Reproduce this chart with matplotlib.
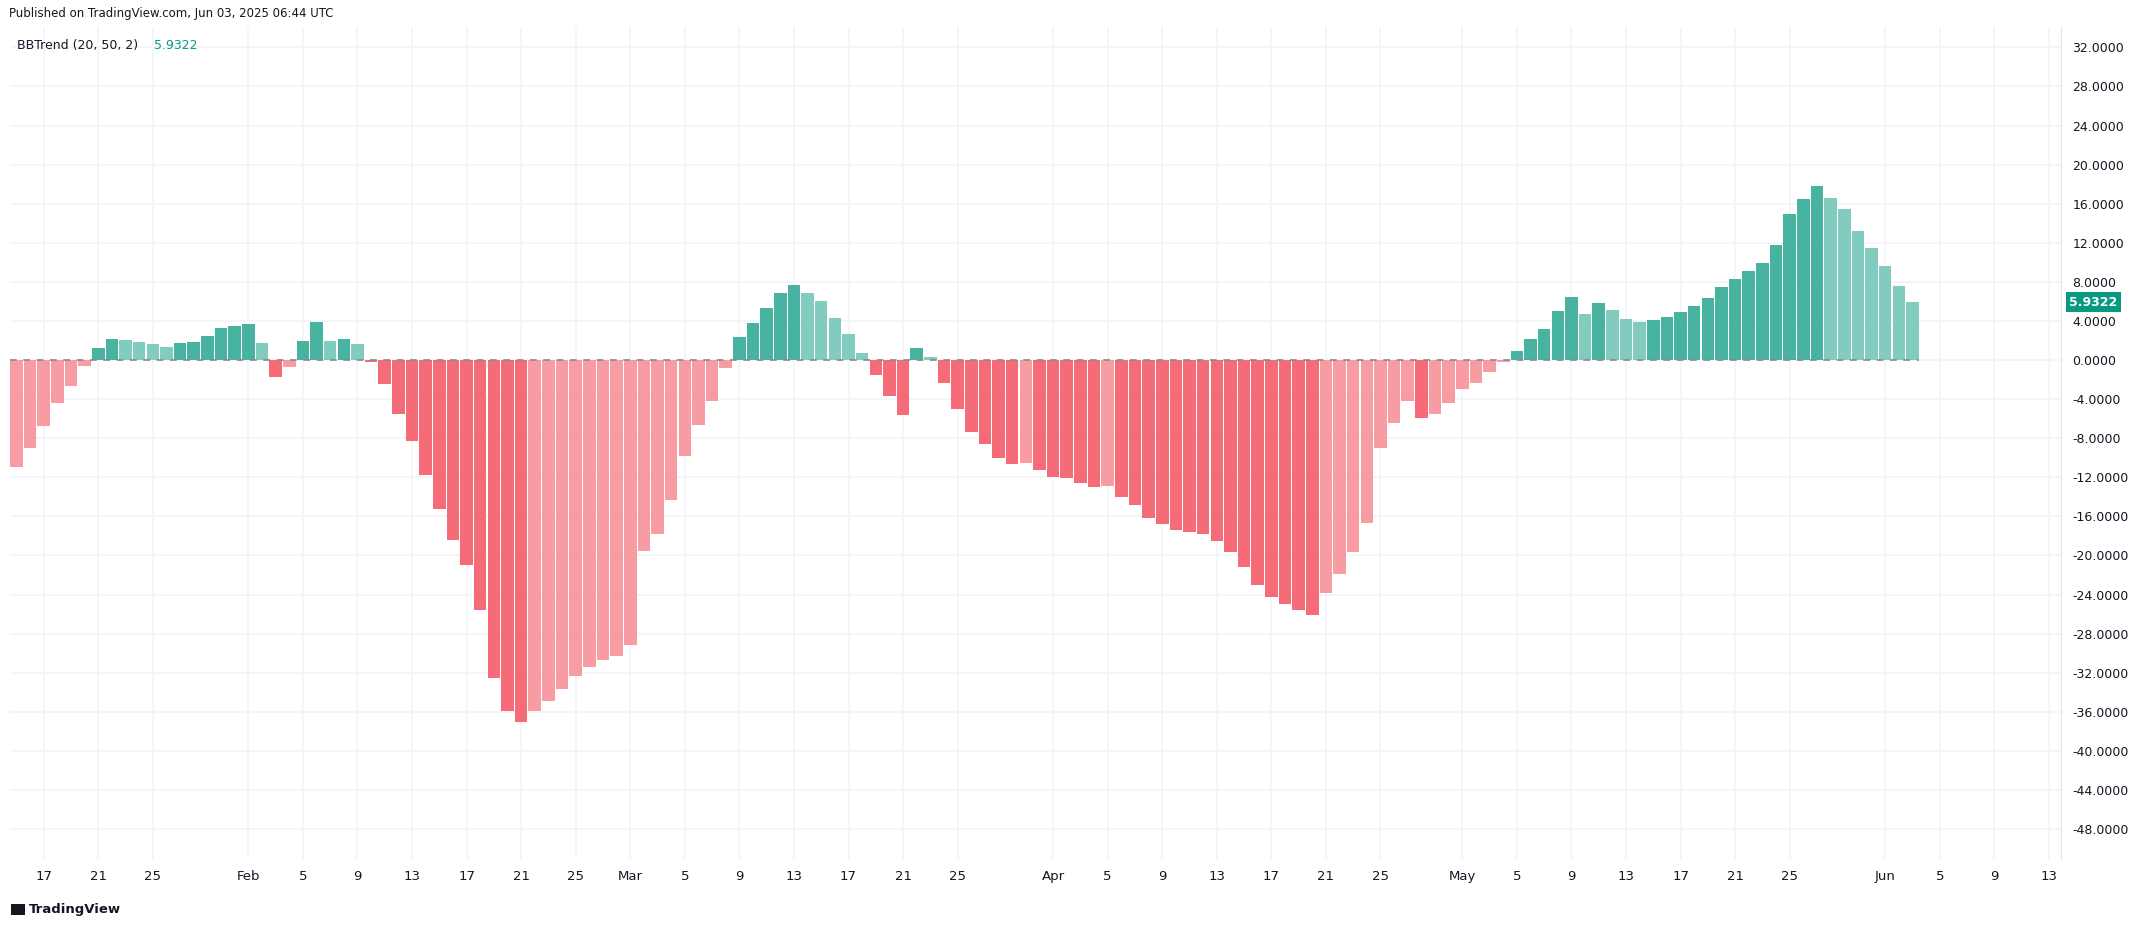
import matplotlib
matplotlib.use("Agg")
import matplotlib.pyplot as plt
import matplotlib.patches as mpatches
import numpy as np
import pandas as pd

start_date = "2025-01-15"
values = [
    -10.9, -9.0, -6.8, -4.4, -2.7, -0.6,                 # Jan 15-20
    1.2, 2.2, 2.0, 1.8, 1.6, 1.3, 1.78, 1.8, 2.5, 3.3, 3.5,  # Jan 21-31
    3.7, 1.7, -1.7, -0.7, 1.9, 3.9, 1.9, 2.2, 1.6, -0.2,  # Feb 1-10
    -2.5, -5.5, -8.3, -11.8, -15.2, -18.4, -21.0, -25.6, -32.5, -35.9,  # Feb 11-20
    -37.0, -35.9, -34.9, -33.7, -32.3, -31.4, -30.7, -30.3,  # Feb 21-28
    -29.2, -19.5, -17.8, -14.3, -9.8, -6.6, -4.2, -0.8,  # Mar 1-8
    2.4, 3.8, 5.3, 6.9, 7.7, 6.9, 6.0, 4.3, 2.7, 0.7,  # Mar 9-18
    -1.5, -3.7, -5.6, 1.2, 0.3, -2.3, -5.0, -7.4, -8.6, -10.0,  # Mar 19-28
    -10.6, -10.5, -11.3,                               # Mar 29-31
    -12.0, -12.1, -12.6, -13.0, -12.9, -14.0, -14.8, -16.2, -16.8, -17.4,  # Apr 1-10
    -17.6, -17.8, -18.5, -19.6, -21.2, -23.0, -24.3, -25.0, -25.6, -26.1,  # Apr 11-20
    -23.8, -21.9, -19.6, -16.7, -9.0, -6.4, -4.2, -5.9, -5.5, -4.4,  # Apr 21-30
    -3.0, -2.4, -1.2, -0.2, 0.9, 2.2, 3.2, 5.0, 6.5, 4.7,  # May 1-10
    5.8, 5.1, 4.2, 3.9, 4.1, 4.4, 4.9, 5.5, 6.4, 7.5,  # May 11-20
    8.3, 9.1, 9.9, 11.8, 14.9, 16.5, 17.8, 16.6, 15.5, 13.2,  # May 21-30
    11.5, 9.6, 7.6, 5.9322,                            # May 31 - Jun 3
]
y_ticks = list(range(-48, 33, 4))
indicator_label = "BBTrend (20, 50, 2)"
header_text = "Published on TradingView.com, Jun 03, 2025 06:44 UTC"

TEAL_D, TEAL_L = "#47b3a0", "#82cbbf"
RED_D, RED_L = "#f56b77", "#f79ca3"

vals = np.array(values)
n = len(vals)
x = np.arange(n)
colors = []
for i, v in enumerate(vals):
    prev = vals[i - 1] if i > 0 else 0
    stronger = (abs(v) > abs(prev) and np.sign(v) == np.sign(prev)) or (i > 0 and np.sign(v) != np.sign(prev))
    if v >= 0:
        colors.append(TEAL_D if stronger else TEAL_L)
    else:
        colors.append(RED_D if stronger else RED_L)

fig = plt.figure(figsize=(21.37, 9.26), dpi=100)
fig.patch.set_facecolor("white")
ax = fig.add_axes([0.0045, 0.072, 0.96, 0.899])
ax.bar(x, vals, width=0.92, color=colors, zorder=3)
ax.hlines(0, -0.5, n - 0.5, color="#8a8a8a", linestyle=(0, (4, 4)), linewidth=1.2, zorder=4)

ax.set_xlim(-0.5, 149.9)
ax.set_ylim(-51.1, 34.1)

dates = pd.date_range(start_date, periods=151, freq="D")
xt, xl = [], []
for i, d in enumerate(dates):
    if d.day in (1, 5, 9, 13, 17, 21, 25):
        xt.append(i)
        xl.append(d.strftime("%b") if d.day == 1 else str(d.day))
ax.set_xticks(xt)
ax.set_xticklabels(xl, fontsize=9.5, color="#131722")
ax.set_yticks(y_ticks)
ax.set_yticklabels([f"{v:.4f}" for v in y_ticks], fontsize=9, color="#131722")
ax.yaxis.tick_right()
ax.tick_params(axis="both", length=0, pad=8)
ax.tick_params(axis="y", pad=8)
ax.grid(True, color="#f2f4f8", linewidth=1.2, zorder=0)
for s in ["top", "left", "bottom"]:
    ax.spines[s].set_visible(False)
ax.spines["right"].set_color("#e0e3eb")

ax.annotate(f"{vals[-1]:.4f}", xy=(1.0, vals[-1]), xycoords=("axes fraction", "data"),
            xytext=(6, 0), textcoords="offset points", ha="left", va="center",
            fontsize=9, color="white", fontweight="bold",
            bbox=dict(boxstyle="square,pad=0.3", fc="#089981", ec="none"))

fig.text(0.004, 0.985, header_text, fontsize=8.5, color="#131722", va="center")
fig.text(0.008, 0.951, indicator_label, fontsize=9, color="#131722", va="center")
fig.text(0.072, 0.951, f"{vals[-1]:.4f}", fontsize=9, color="#089981", va="center")
fig.patches.append(mpatches.Rectangle((0.005, 0.012), 0.0065, 0.012, transform=fig.transFigure,
                                      facecolor="#131722", edgecolor="none"))
fig.text(0.0135, 0.018, "TradingView", fontsize=9.5, color="#131722", va="center",
         fontweight="bold")

fig.savefig("out.png", dpi=100)
